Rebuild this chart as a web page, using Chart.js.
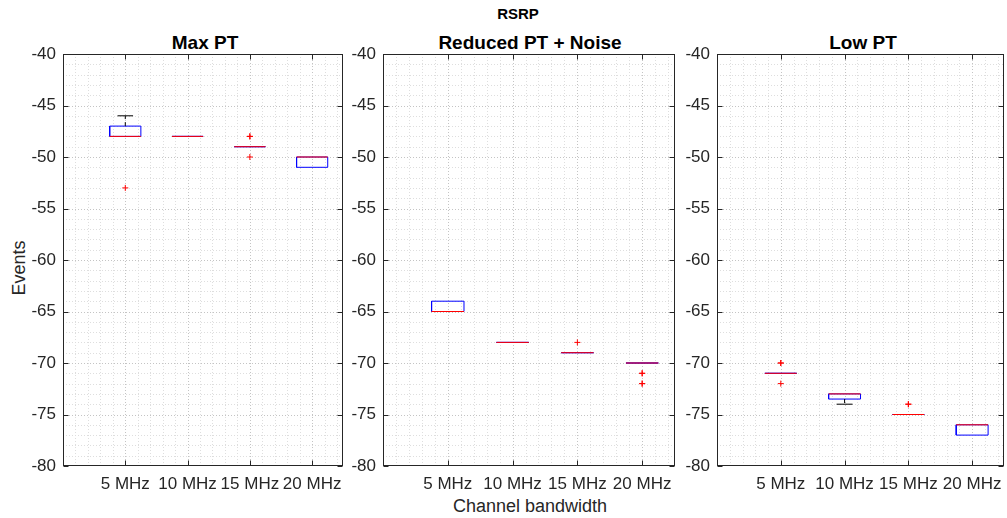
<!DOCTYPE html>
<html><head><meta charset="utf-8">
<script src="https://cdn.jsdelivr.net/npm/chart.js@4.4.0/dist/chart.umd.min.js"></script>
<style>
html,body{margin:0;padding:0;background:#fff;overflow:hidden;width:1007px;height:518px;position:relative;}
canvas{position:absolute;top:0;}
.t{position:absolute;font-family:'Liberation Sans',Arial,Helvetica,sans-serif;color:#000;white-space:nowrap;transform:translateX(-50%);line-height:1;}
</style></head><body>
<div class="t" style="left:518px;top:6px;font-weight:bold;font-size:15px">RSRP</div>
<div class="t" style="left:205px;top:33px;font-weight:bold;font-size:19px">Max PT</div>
<div class="t" style="left:530px;top:33px;font-weight:bold;font-size:19px">Reduced PT + Noise</div>
<div class="t" style="left:863px;top:33px;font-weight:bold;font-size:19px">Low PT</div>
<div class="t" style="left:530px;top:497px;font-size:18px;color:#262626">Channel bandwidth</div>
<div class="t" style="left:19px;top:268px;font-size:18px;color:#262626;transform:translate(-50%,-50%) rotate(-90deg)">Events</div>
<canvas id="c1" width="350" height="518" style="left:0px"></canvas>
<canvas id="c2" width="350" height="518" style="left:330px"></canvas>
<canvas id="c3" width="346" height="518" style="left:664px"></canvas>
<script>
// ---- data ----
const categories = ['5 MHz', '10 MHz', '15 MHz', '20 MHz'];
const yTicks = [-80, -75, -70, -65, -60, -55, -50, -45, -40];

// Max PT
const maxQ1  = [-48, -48, -49, -51];
const maxQ3  = [-47, -48, -49, -50];
const maxMed = [-48, -48, -49, -50];
const maxLo  = [-48, -48, -49, -51];
const maxHi  = [-46, -48, -49, -50];
const maxOut = [[-53], [], [-48, -48, -50], []];

// Reduced PT + Noise
const redQ1  = [-65, -68, -69, -70];
const redQ3  = [-64, -68, -69, -70];
const redMed = [-65, -68, -69, -70];
const redLo  = [-65, -68, -69, -70];
const redHi  = [-64, -68, -69, -70];
const redOut = [[], [], [-68], [-71, -71, -72, -72]];

// Low PT
const lowQ1  = [-71, -73.5, -75, -77];
const lowQ3  = [-71, -73, -75, -76];
const lowMed = [-71, -73, -75, -76];
const lowLo  = [-71, -74, -75, -77];
const lowHi  = [-71, -73, -75, -76];
const lowOut = [[-70, -70, -72], [], [-74, -74], []];

const panels = [
  {id: 'c1', q1: maxQ1, q3: maxQ3, med: maxMed, lo: maxLo, hi: maxHi, out: maxOut, yw: 63, pr: 4},
  {id: 'c2', q1: redQ1, q3: redQ3, med: redMed, lo: redLo, hi: redHi, out: redOut, yw: 53, pr: 3},
  {id: 'c3', q1: lowQ1, q3: lowQ3, med: lowMed, lo: lowLo, hi: lowHi, out: lowOut, yw: 53, pr: 0}
];

const GAP = {x: null, y: null};
const HALF = 0.25, CAP = 0.125;
const AXC = '#262626';

const framePlugin = {
  id: 'frame',
  beforeDatasetsDraw(chart) {
    const {ctx, chartArea: a, scales: {x, y}} = chart;
    ctx.save();
    ctx.lineWidth = 1;
    ctx.setLineDash([1, 2]);
    for (let v = 0.2; v < 4.5 - 1e-6; v += 0.2) {
      const px = Math.round(x.getPixelForValue(v)) + 0.5;
      const major = Math.abs(v - Math.round(v)) < 1e-6;
      ctx.strokeStyle = major ? '#c4c4c4' : '#dedede';
      ctx.beginPath(); ctx.moveTo(px, a.top); ctx.lineTo(px, a.bottom); ctx.stroke();
    }
    for (let v = -79; v < -40; v += 1) {
      const py = Math.round(y.getPixelForValue(v)) + 0.5;
      const major = v % 5 === 0;
      ctx.strokeStyle = major ? '#c4c4c4' : '#dedede';
      ctx.beginPath(); ctx.moveTo(a.left, py); ctx.lineTo(a.right, py); ctx.stroke();
    }
    ctx.restore();
  },
  afterDatasetsDraw(chart) {
    const {ctx, chartArea: a, scales: {x, y}} = chart;
    ctx.save();
    ctx.strokeStyle = AXC; ctx.lineWidth = 1; ctx.setLineDash([]);
    const L = Math.round(a.left) + 0.5, R = Math.round(a.right) - 0.5;
    const T = Math.round(a.top) + 0.5, B = Math.round(a.bottom) - 0.5;
    ctx.strokeRect(L, T, R - L, B - T);
    const tl = 5;
    ctx.beginPath();
    y.ticks.forEach(t => {
      const py = Math.round(y.getPixelForValue(t.value)) + 0.5;
      ctx.moveTo(L, py); ctx.lineTo(L + tl, py);
      ctx.moveTo(R, py); ctx.lineTo(R - tl, py);
    });
    x.ticks.forEach(t => {
      const px = Math.round(x.getPixelForValue(t.value)) + 0.5;
      ctx.moveTo(px, B); ctx.lineTo(px, B - tl);
      ctx.moveTo(px, T); ctx.lineTo(px, T + tl);
    });
    ctx.stroke();
    ctx.restore();
  }
};

function build(p) {
  const boxes = [], whisk = [], caps = [], meds = [], outs = [];
  categories.forEach((c, i) => {
    const xv = i + 1;
    boxes.push({x: xv - HALF, y: p.q1[i]}, {x: xv + HALF, y: p.q1[i]}, {x: xv + HALF, y: p.q3[i]},
               {x: xv - HALF, y: p.q3[i]}, {x: xv - HALF, y: p.q1[i]}, GAP);
    if (p.hi[i] > p.q3[i]) {
      whisk.push({x: xv, y: p.q3[i]}, {x: xv, y: p.hi[i]}, GAP);
      caps.push({x: xv - CAP, y: p.hi[i]}, {x: xv + CAP, y: p.hi[i]}, GAP);
    }
    if (p.lo[i] < p.q1[i]) {
      whisk.push({x: xv, y: p.q1[i]}, {x: xv, y: p.lo[i]}, GAP);
      caps.push({x: xv - CAP, y: p.lo[i]}, {x: xv + CAP, y: p.lo[i]}, GAP);
    }
    meds.push({x: xv - HALF, y: p.med[i]}, {x: xv + HALF, y: p.med[i]}, GAP);
    p.out[i].forEach(v => outs.push({x: xv, y: v}));
  });
  const lineDs = (data, color, order, dash) => ({data, order, showLine: true, borderColor: color, borderWidth: 1,
    borderDash: dash || [], pointRadius: 0, pointHoverRadius: 0, spanGaps: false, fill: false, tension: 0});
  new Chart(document.getElementById(p.id), {
    type: 'scatter',
    data: {datasets: [
      lineDs(boxes, '#0000ff', 4),
      lineDs(whisk, '#000000', 3, [4, 3]),
      lineDs(caps, '#000000', 2),
      lineDs(meds, '#ff0000', 1),
      {data: outs, order: 0, pointStyle: 'cross', pointRadius: 3, pointBorderColor: '#ff0000',
       pointBackgroundColor: '#ff0000', pointBorderWidth: 1, showLine: false}
    ]},
    options: {
      responsive: false, animation: false, devicePixelRatio: 1,
      layout: {padding: {top: 54, right: p.pr, bottom: 0, left: 0}},
      plugins: {legend: {display: false}, tooltip: {enabled: false}, title: {display: false}},
      scales: {
        x: {type: 'linear', min: 0, max: 4.5,
          afterBuildTicks: s => { s.ticks = categories.map((c, i) => ({value: i + 1})); },
          afterFit: s => { s.height = 52; },
          grid: {display: false, drawTicks: false}, border: {display: false},
          ticks: {autoSkip: false, maxRotation: 0, padding: 8, color: AXC,
            font: {family: "'Liberation Sans', Arial, sans-serif", size: 17},
            callback: v => categories[Math.round(v) - 1]}},
        y: {type: 'linear', min: -80, max: -40,
          afterBuildTicks: s => { s.ticks = yTicks.map(v => ({value: v})); },
          afterFit: s => { s.width = p.yw; },
          grid: {display: false, drawTicks: false}, border: {display: false},
          ticks: {padding: 7, color: AXC,
            font: {family: "'Liberation Sans', Arial, sans-serif", size: 17}}}
      }
    },
    plugins: [framePlugin]
  });
}
panels.forEach(build);
</script>
</body></html>
